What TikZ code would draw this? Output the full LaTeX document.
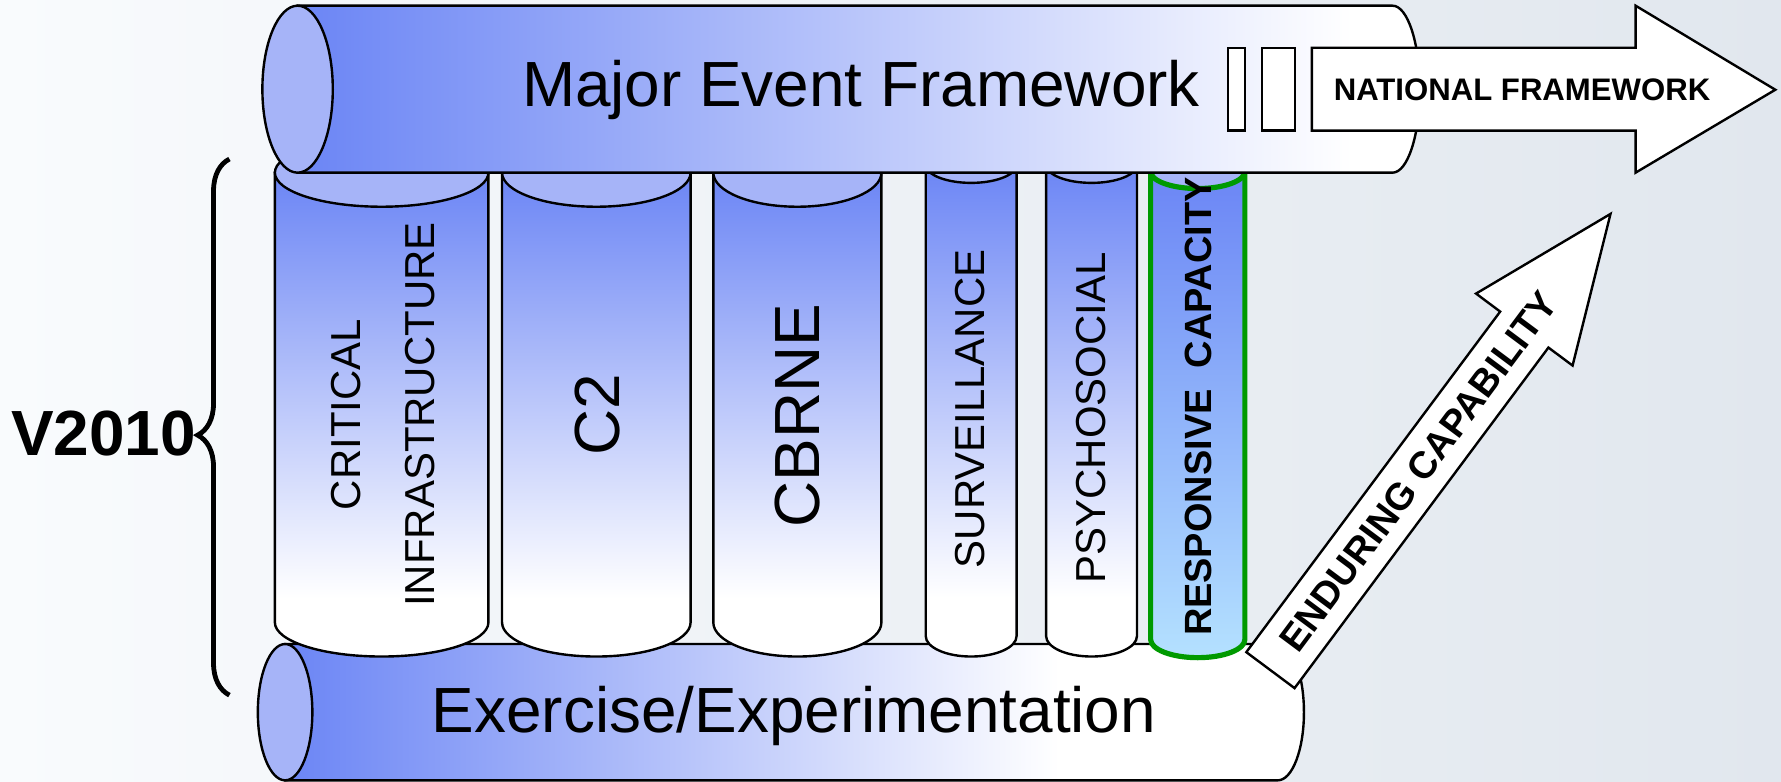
\documentclass[tikz,border=0pt]{standalone}
\usepackage{fontspec}
\setmainfont{Liberation Sans}
\usepackage{tikz}
\usetikzlibrary{positioning,calc,decorations.pathreplacing}
\definecolor{barblue}{HTML}{6B85F5}
\definecolor{barface}{HTML}{A6B4F8}
\definecolor{skyfill}{HTML}{B4E1FF}
\definecolor{pillargreen}{HTML}{009A00}
\definecolor{bgleft}{HTML}{F9FBFD}
\definecolor{bgright}{HTML}{E1E7EE}
\pgfdeclarehorizontalshading{mefshade}{100bp}{color(0bp)=(barblue); color(25bp)=(barblue); color(72bp)=(white); color(100bp)=(white)}
\pgfdeclarehorizontalshading{exshade}{100bp}{color(0bp)=(barblue); color(25bp)=(barblue); color(63bp)=(white); color(100bp)=(white)}
\pgfdeclareverticalshading{pillarshade}{100bp}{color(0bp)=(white); color(31bp)=(white); color(75bp)=(barblue); color(100bp)=(barblue)}
\pgfdeclareverticalshading{greenshade}{100bp}{color(0bp)=(skyfill); color(25bp)=(skyfill); color(75bp)=(barblue); color(100bp)=(barblue)}

\begin{document}
\begin{tikzpicture}[x=0.1mm, y=0.1mm,
    outline/.style={draw=black, line width=0.6pt},
    barend/.style={outline, fill=barface},
    pillar/.style={outline, shading=pillarshade},
    pillarcap/.style={outline, fill=barface},
    greenpillar/.style={draw=pillargreen, line width=1.3pt, shading=greenshade},
    greencap/.style={draw=pillargreen, line width=1.3pt, fill=barface},
    whitebox/.style={outline, fill=white},
    bigtxt/.style={font=\fontsize{16}{19}\selectfont, inner sep=0pt},
    pillartxt/.style={font=\fontsize{10.5}{18.5}\selectfont, rotate=90, inner sep=0pt, align=center}]
  \useasboundingbox (0,0) rectangle (1568,688);
  \shade[left color=bgleft, right color=bgright] (0,0) rectangle (1568,688);

  % bottom bar
  \draw[outline, shading=exshade] (251,121) -- (1125,121) arc[start angle=90, end angle=-90, x radius=23, y radius=60] -- (251,1) -- cycle;
  \draw[barend] (251,61) ellipse [x radius=24, y radius=60];
  \node[bigtxt] (exercise) at (699,58) {Exercise/Experimentation};

  % pillars
  \foreach \xa/\xb/\yt/\yb/\rt/\rb/\sty/\cap in {242/430/536/140/30/30/pillar/pillarcap,
      442/608/536/140/30/30/pillar/pillarcap, 628/776/536/140/30/30/pillar/pillarcap,
      815/895/543/128/16/18/pillar/pillarcap, 921/1001/543/128/16/18/pillar/pillarcap,
      1013/1096/537/125/15/16/greenpillar/greencap}
  {
    \pgfmathsetmacro\rx{(\xb-\xa)/2}
    \pgfmathsetmacro\xm{(\xa+\xb)/2}
    \draw[\sty] (\xa,\yt) -- (\xa,\yb) arc[start angle=180, end angle=360, x radius=\rx, y radius=\rb] -- (\xb,\yt) -- cycle;
    \draw[\cap] (\xm,\yt) ellipse [x radius=\rx, y radius=\rt];
  }
  \node[pillartxt] (infra) at (337,323) {CRITICAL\\INFRASTRUCTURE};
  \node[bigtxt, rotate=90] (c2) at (526,323) {C2};
  \node[bigtxt, rotate=90] (cbrne) at (702,322) {CBRNE};
  \node[pillartxt] (surv) at (854,328) {SURVEILLANCE};
  \node[pillartxt] (psycho) at (961,320) {PSYCHOSOCIAL};
  \node[pillartxt, font=\fontsize{9.5}{11}\bfseries] (respcap) at (1055,330) {RESPONSIVE\ \ CAPACITY};

  % top bar
  \draw[outline, shading=mefshade] (262,683) -- (1226,683) arc[start angle=90, end angle=-90, x radius=24, y radius=73.5] -- (262,536) -- cycle;
  \draw[barend] (262,609.5) ellipse [x radius=31, y radius=73.5];
  \node[bigtxt] (mef) at (758,609) {Major Event Framework};

  % national framework arrow
  \draw[whitebox] (1081,573) rectangle (1096,646);
  \draw[whitebox] (1111,573) rectangle (1140,646);
  \draw[whitebox] (1155,573) -- (1155,646) -- (1440,646) -- (1440,683) -- (1563,609) -- (1440,536) -- (1440,573) -- cycle;
  \node[font=\fontsize{7.8}{9}\bfseries] (natfw) at (1340,609) {NATIONAL FRAMEWORK};

  % enduring capability arrow
  \begin{scope}[shift={(1118.5,98)}, rotate=53.3]
    \draw[whitebox] (0,-26.5) -- (374,-26.5) -- (374,-53) -- (501,0) -- (374,53) -- (374,26.5) -- (0,26.5) -- cycle;
    \node[rotate=53.3, font=\fontsize{9.5}{11}\bfseries] (endcap) at (218,0) {ENDURING CAPABILITY};
  \end{scope}

  % brace and label
  \draw[line width=1.2pt, decorate, decoration={brace, amplitude=2.8mm, aspect=0.485}] (202,76) -- (202,548);
  \node[font=\fontsize{16}{19}\bfseries] (v2010) at (91,306) {V2010};
\end{tikzpicture}
\end{document}
